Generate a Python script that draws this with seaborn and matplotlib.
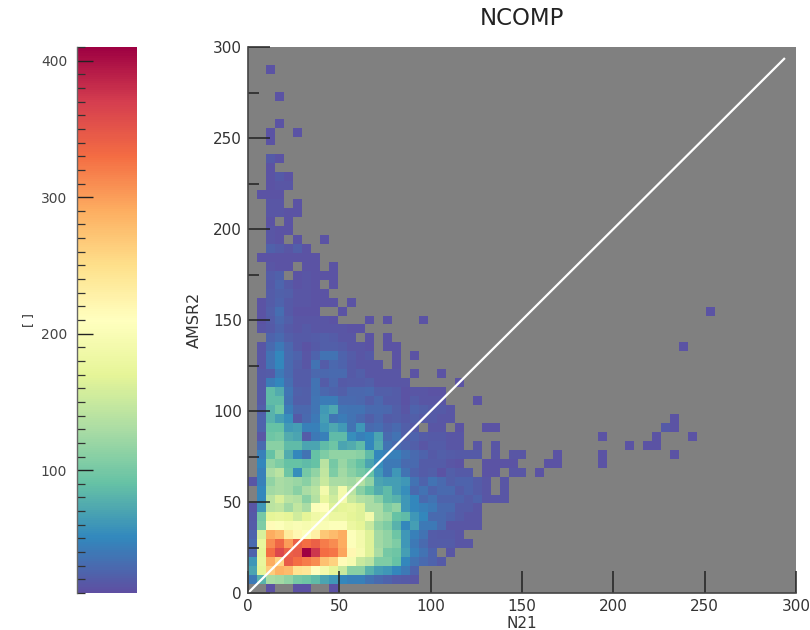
import numpy as np
import matplotlib
matplotlib.use("Agg")
import matplotlib.pyplot as plt
import seaborn as sns

# counts per cell, one list per AMSR2 row, first entry is the N21 = 0 column (0 = empty)
r00 = [0,0,12,0,0,12,12,0,0,12]
r01 = [40,80,130,125,115,100,95,85,70,60,50,45,45,35,30,25,20,18,15]
r02 = [70,170,265,285,280,245,240,210,190,170,150,110,110,80,65,60,50,40,25]
r03 = [60,175,290,260,345,330,320,310,275,260,215,195,150,140,105,105,90,50,35,30,25,18]
r04 = [25,170,330,360,340,345,410,375,330,325,295,220,195,165,130,100,95,65,45,35,25,0,15]
r05 = [30,175,310,335,300,340,330,340,320,310,290,205,190,165,125,115,105,60,40,30,20,20,20,15,15]
r06 = [25,160,290,280,235,220,205,230,270,280,290,205,190,165,125,115,95,60,45,35,20,18,18,15]
r07 = [20,105,215,205,195,200,195,200,200,205,205,180,170,150,115,105,80,50,65,40,40,30,15,15,15,15]
r08 = [18,100,170,175,170,155,170,185,190,180,180,170,165,190,130,120,90,85,60,50,30,30,25,20,15,15]
r09 = [15,60,140,145,125,145,130,205,210,165,170,175,165,130,130,105,115,60,50,45,40,30,30,20,20,15]
r10 = [0,50,140,160,140,135,110,135,175,155,190,150,135,130,110,85,80,60,50,30,35,25,25,25,20,25,15,15,15]
r11 = [0,50,125,130,125,110,130,140,190,145,190,140,110,90,75,85,65,55,30,35,25,30,30,20,25,20,15,0,15]
r12 = [15,45,115,130,125,120,110,130,150,130,130,125,135,115,70,65,65,60,35,25,35,30,22,25,25,20,15,0,15]
r13 = [0,45,130,140,95,55,100,115,145,105,125,110,100,90,60,40,60,35,25,20,22,14,22,18,18,0,14,14,0,15,15]
r14 = [0,50,115,105,90,90,85,90,140,100,120,105,90,70,55,40,40,30,30,20,20,20,15,14,0,0,14,14,14,14]
r15 = [0,45,90,120,75,50,35,90,105,115,115,115,110,85,50,45,45,35,30,25,18,22,20,18,18,18,0,15,0,15,15]
r16 = [0,30,110,110,85,85,70,70,85,95,70,75,85,50,75,35,30,25,22,15,20,20,16,16,0,15,0,15]
r17 = [0,15,95,100,75,70,20,40,45,85,85,55,45,50,70,30,35,22,25,20,18,18,16,15]
r18 = [0,25,90,90,62,65,45,45,60,72,62,35,60,30,32,25,30,22,18,0,15,15,0,14,0,0,14,14]
r19 = [0,25,80,65,55,18,30,40,65,38,42,35,30,22,28,20,22,18,22,18,18,16,15]
r20 = [0,22,80,95,42,28,28,38,62,72,38,35,35,30,30,28,22,16,25,22,18,18,15]
r21 = [0,18,85,85,35,22,22,38,42,42,30,30,28,22,28,20,20,14,20,16,15,15,0,0,0,14]
r22 = [0,18,85,75,38,24,22,35,28,25,22,28,28,30,22,22,20,14,16,15,14,14]
r23 = [0,18,42,50,32,20,20,35,20,28,18,20,20,22,15,15,15,15,0,0,0,0,0,14]
r24 = [0,18,20,40,30,20,20,28,28,30,30,18,22,16,15,15,15,0,14,0,0,14]
r25 = [0,15,35,50,30,22,15,35,20,28,25,18,16,15,15,0,14]
r26 = [0,15,35,50,30,25,15,25,35,35,25,20,15,18,0,0,14,0,14]
r27 = [0,15,30,40,28,18,14,18,22,22,20,16,16,14,0,14,14]
r28 = [0,0,25,30,22,18,18,20,22,20,16,15,0,14,0,14]
r29 = [0,15,18,25,18,16,18,16,16,15,15,14,14]
r30 = [0,14,20,28,22,16,15,16,16,14,0,0,0,14,0,14,0,0,0,14]
r31 = [0,14,22,32,18,14,14,14,0,0,14]
r32 = [0,14,20,25,18,15,15,14,14,14,0,14]
r33 = [0,0,20,24,22,16,16,14,14]
r34 = [0,0,18,26,18,14,15,14,0,14]
r35 = [0,0,20,24,0,14,15,14,14,14]
r36 = [0,0,15,14,14,0,14,14,0,14]
r37 = [0,14,14,14,14,14,14,14]
r38 = [0,0,24,20,16,22,14]
r39 = [0,0,15,14,0,14,0,0,14]
r40 = [0,0,15,14,14]
r41 = [0,0,14,0,14]
r42 = [0,0,16,16,14,14]
r43 = [0,0,16,16,0,14]
r44 = [0,14,14,14]
r45 = [0,0,14,15,16]
r46 = [0,0,14,18,14]
r47 = [0,0,14]
r48 = [0,0,18,14]
r49 = []
r50 = [0,0,14]
r51 = [0,0,14,0,0,14]
r52 = [0,0,0,14]
r53 = []
r54 = []
r55 = [0,0,0,14]
r56 = []
r57 = []
r58 = [0,0,14]

# the isolated cells out on the right
far_col = [32,33,34,34,39,39,39,42,44,45,45,46,47,47,47,49,48,51]
far_row = [13,14,14,15,14,15,17,16,16,16,17,18,18,19,15,17,27,31]
far_val = [14,14,14,14,14,14,14,14,14,14,14,18,14,14,14,14,14,14]

rows = [r00,r01,r02,r03,r04,r05,r06,r07,r08,r09,r10,r11,r12,r13,r14,r15,r16,r17,r18,r19,
        r20,r21,r22,r23,r24,r25,r26,r27,r28,r29,r30,r31,r32,r33,r34,r35,r36,r37,r38,r39,
        r40,r41,r42,r43,r44,r45,r46,r47,r48,r49,r50,r51,r52,r53,r54,r55,r56,r57,r58]

diag = [0, 293.5]
major_cb = [100, 200, 300, 400]
major_xy = [0, 50, 100, 150, 200, 250, 300]

counts = np.zeros((61, 61))
for i, row in enumerate(rows):
    counts[i, :len(row)] = row
counts[far_row, far_col] = far_val

W, H = 810, 630
fig = plt.figure(figsize=(8.1, 6.3), dpi=100)
box = [248 / W, (H - 593) / H, 548 / W, 546 / H]
ax = fig.add_axes(box)
cax = fig.add_axes([77 / W, (H - 593) / H, 60 / W, 546 / H])

ax.set_facecolor("#808080")
sns.heatmap(counts, mask=counts == 0, cmap="Spectral_r", vmin=10, vmax=410, ax=ax,
            cbar_ax=cax, xticklabels=False, yticklabels=False)
ax.invert_yaxis()
ax.tick_params(length=0)

# second axes on top carries the 0-300 scale and the 1:1 line
ov = fig.add_axes(box, facecolor="none")
sns.lineplot(x=diag, y=diag, ax=ov, color="white", linewidth=1.6)
ov.set_xlim(0, 300)
ov.set_ylim(0, 300)
ov.set_xticks(major_xy)
ov.set_yticks(major_xy)
ov.set_yticks(np.arange(25, 300, 50), minor=True)
ov.tick_params(axis="both", which="major", direction="in", length=16, width=1.1,
               labelsize=11, color="#222222", labelcolor="#333333", pad=4.5)
ov.tick_params(axis="y", which="minor", direction="in", length=8, width=1.1, color="#222222")
ov.spines["top"].set_visible(False)
ov.spines["right"].set_visible(False)
ov.spines["left"].set_color("#444444")
ov.spines["bottom"].set_color("#444444")
ov.spines["left"].set_linewidth(1.2)
ov.spines["bottom"].set_linewidth(1.2)
ov.set_xlabel("N21", fontsize=11, labelpad=1.5, color="#333333")
ov.set_ylabel("AMSR2", fontsize=11.5, labelpad=8, color="#333333")
ov.set_title("NCOMP", fontsize=16.5, pad=16, color="#222222")

# colorbar: ticks point into the bar from the left
cb = ax.collections[0].colorbar
cb.outline.set_visible(False)
cb.set_ticks(major_cb)
cax.set_yticks(np.arange(10, 411, 10), minor=True)
cax.yaxis.set_ticks_position("left")
cax.yaxis.set_label_position("left")
cax.tick_params(axis="y", which="major", direction="in", length=11.5, width=1.0,
                labelsize=10, color="#222222", labelcolor="#444444", pad=7)
cax.tick_params(axis="y", which="minor", direction="in", length=5.8, width=0.9, color="#333333")
cax.spines["left"].set_visible(True)
cax.spines["left"].set_color("#666666")
cax.spines["left"].set_linewidth(1.0)
cax.set_ylabel("[ ]", fontsize=9, labelpad=4.5, color="#333333")

fig.savefig("out.png", dpi=100)
